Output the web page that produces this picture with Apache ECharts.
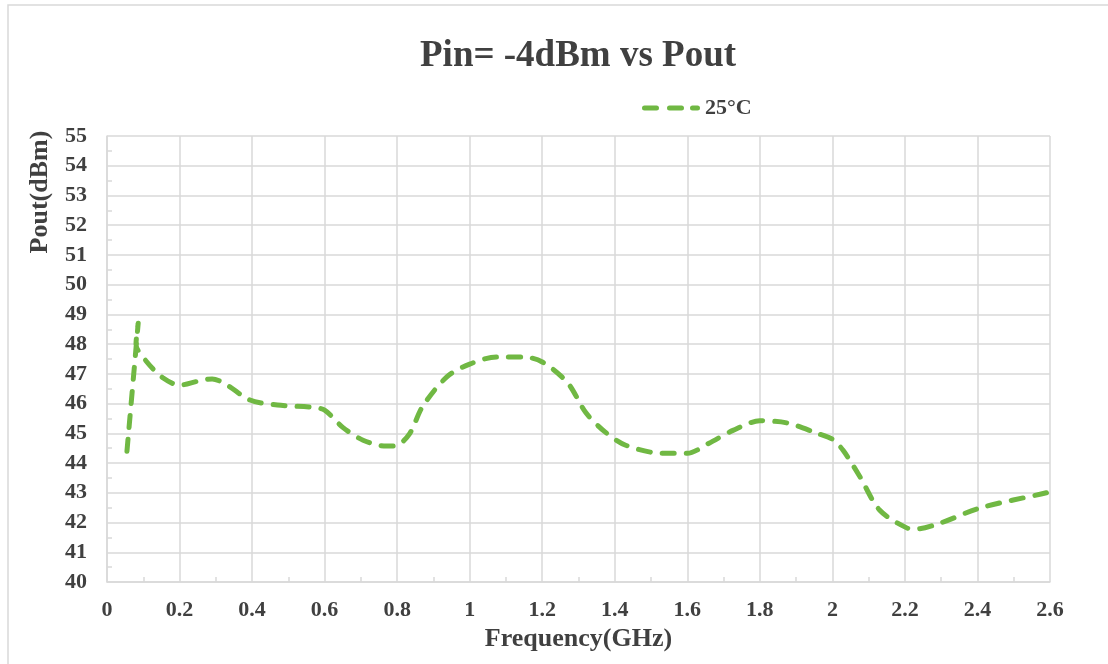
<!DOCTYPE html>
<html>
<head>
<meta charset="utf-8">
<script src="https://cdn.jsdelivr.net/npm/echarts@6/dist/echarts.min.js"></script>
<style>html,body{margin:0;padding:0;background:#fff;}#c{width:1108px;height:664px;}</style>
</head>
<body>
<div id="c"></div>
<script>
const titleText = 'Pin= -4dBm vs Pout';
const seriesName = '25°C';
const xName = 'Frequency(GHz)';
const yName = 'Pout(dBm)';
const freq = [0.055,0.086,0.080,0.11,0.155,0.2,0.25,0.29,0.33,0.394,0.47,0.56,0.6,0.65,0.706,0.77,0.8,0.835,0.87,0.937,1.0,1.075,1.147,1.2,1.27,1.32,1.373,1.43,1.53,1.6,1.66,1.726,1.8,1.875,1.958,2.0,2.03,2.076,2.13,2.205,2.23,2.297,2.407,2.59,2.6];
const pout = [44.4,48.7,48.0,47.4,46.86,46.62,46.75,46.83,46.63,46.12,45.95,45.88,45.78,45.2,44.77,44.57,44.6,45.0,45.9,46.9,47.33,47.57,47.57,47.4,46.7,45.7,45.05,44.6,44.33,44.33,44.67,45.1,45.42,45.35,45.0,44.8,44.42,43.54,42.42,41.82,41.78,41.98,42.49,43.0,43.05];

const font = 'Liberation Serif';
const txt = '#404040';
const grid = '#d9d9d9';
const green = '#70B843';

// three rounded dashes for the legend key
const dashIcon = 'path://M2.5,0h12a2.5,2.5 0 0 1 0,5h-12a2.5,2.5 0 0 1 0,-5z' +
  'M27.5,0h12a2.5,2.5 0 0 1 0,5h-12a2.5,2.5 0 0 1 0,-5z' +
  'M50.5,0h5a2.5,2.5 0 0 1 0,5h-5a2.5,2.5 0 0 1 0,-5z';

const chart = echarts.init(document.getElementById('c'));
chart.setOption({
  animation: false,
  title: {
    text: titleText, left: 415, top: 33,
    textStyle: {fontFamily: font, fontSize: 37, fontWeight: 'bold', color: txt}
  },
  legend: {
    data: [{name: seriesName, icon: dashIcon}], left: 637, top: 92, itemWidth: 58, itemHeight: 5, itemGap: 4,
    textStyle: {fontFamily: font, fontSize: 22, fontWeight: 'bold', color: txt}
  },
  grid: {left: 107, right: 58, top: 136, bottom: 82},
  graphic: [
    {type: 'rect', shape: {x: 8, y: 5, width: 1120, height: 680}, style: {fill: 'none', stroke: '#d9d9d9', lineWidth: 1.5}, silent: true, z: -10},
    {type: 'text', x: 40, y: 192, rotation: Math.PI / 2,
     style: {text: yName, fontFamily: font, fontSize: 26, fontWeight: 'bold', fill: txt, align: 'center', verticalAlign: 'middle'}}
  ],
  xAxis: {
    type: 'value', min: 0, max: 2.6, interval: 0.2,
    name: xName, nameLocation: 'middle', nameGap: 44,
    nameTextStyle: {fontFamily: font, fontSize: 26, fontWeight: 'bold', color: txt},
    axisLine: {show: true, lineStyle: {color: grid, width: 1.5}},
    axisTick: {show: false, inside: true},
    minorTick: {show: true, splitNumber: 2, length: 5, lineStyle: {color: grid, width: 1.5}},
    axisLabel: {margin: 17, fontFamily: font, fontSize: 22, fontWeight: 'bold', color: txt},
    splitLine: {show: true, lineStyle: {color: grid, width: 1.5}}
  },
  yAxis: {
    type: 'value', min: 40, max: 55, interval: 1,
    axisLine: {show: true, lineStyle: {color: grid, width: 1.5}},
    axisTick: {show: false, inside: true},
    minorTick: {show: true, splitNumber: 2, length: 5, lineStyle: {color: grid, width: 1.5}},
    axisLabel: {margin: 20, fontFamily: font, fontSize: 22, fontWeight: 'bold', color: txt},
    splitLine: {show: true, lineStyle: {color: grid, width: 1.5}}
  },
  series: [{
    name: seriesName, type: 'line', smooth: 0.3, symbol: 'none',
    data: freq.map((f, i) => [f, pout[i]]),
    lineStyle: {color: green, width: 5, type: [12, 12], cap: 'round', join: 'round'},
    itemStyle: {color: green}
  }]
});
</script>
</body>
</html>
